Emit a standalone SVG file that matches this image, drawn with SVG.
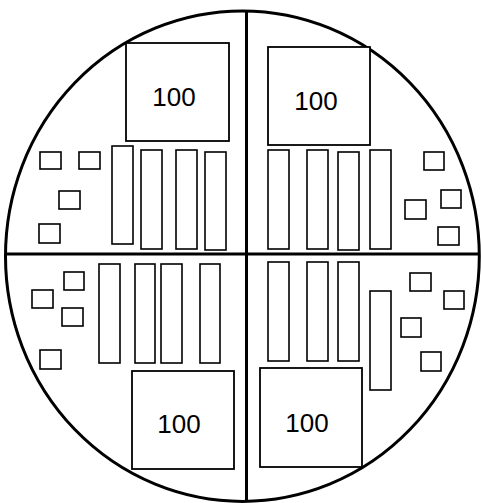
<svg xmlns="http://www.w3.org/2000/svg" width="481" height="503" viewBox="0 0 481 503">
<style>
.b{fill:#fff;stroke:#000;stroke-width:1.8}
.s{fill:#fff;stroke:#000;stroke-width:1.6}
.t{font-family:"Liberation Sans","Open Sans",sans-serif;font-size:26px;fill:#000;text-anchor:middle}
.o{fill:none;stroke:#000;stroke-width:3}
</style>
<rect width="481" height="503" fill="#fff"/>
<ellipse id="outline" class="o" cx="242.4" cy="256.2" rx="236.9" ry="245.2"/>
<g id="connectors">
<line class="o" x1="246.5" y1="11" x2="246.5" y2="501.5"/>
<line class="o" x1="5.5" y1="254" x2="479.3" y2="254"/>
</g>
<g id="q1">
<g id="big1"><rect class="b" x="126" y="43" width="103" height="98"/><text class="t" x="174" y="106">100</text></g>
<rect class="s" x="40" y="152" width="21" height="17"/>
<rect class="s" x="79" y="152" width="21" height="17"/>
<rect class="s" x="59" y="191" width="21" height="18"/>
<rect class="s" x="39" y="224" width="21" height="19"/>
<rect class="s" x="112" y="146" width="21" height="98"/>
<rect class="s" x="141" y="150" width="21" height="99"/>
<rect class="s" x="176" y="150" width="21" height="99"/>
<rect class="s" x="205" y="152" width="21" height="98"/>
</g>
<g id="q2">
<g id="big2"><rect class="b" x="268" y="47" width="102" height="98"/><text class="t" x="316" y="110">100</text></g>
<rect class="s" x="268" y="150" width="21" height="99"/>
<rect class="s" x="307" y="150" width="21" height="99"/>
<rect class="s" x="338" y="152" width="21" height="98"/>
<rect class="s" x="370" y="150" width="21" height="99"/>
<rect class="s" x="424" y="152" width="20" height="18"/>
<rect class="s" x="441" y="190" width="20" height="18"/>
<rect class="s" x="405" y="200" width="21" height="19"/>
<rect class="s" x="438" y="227" width="21" height="18"/>
</g>
<g id="q3">
<g id="big3"><rect class="b" x="132" y="371" width="102" height="98"/><text class="t" x="179" y="433">100</text></g>
<rect class="s" x="64" y="272" width="20" height="18"/>
<rect class="s" x="32" y="290" width="21" height="18"/>
<rect class="s" x="62" y="308" width="21" height="18"/>
<rect class="s" x="40" y="350" width="21" height="19"/>
<rect class="s" x="99" y="264" width="21" height="99"/>
<rect class="s" x="135" y="264" width="20" height="99"/>
<rect class="s" x="161" y="264" width="21" height="99"/>
<rect class="s" x="200" y="264" width="20" height="99"/>
</g>
<g id="q4">
<g id="big4"><rect class="b" x="260" y="368" width="102" height="99"/><text class="t" x="307" y="432">100</text></g>
<rect class="s" x="268" y="262" width="21" height="99"/>
<rect class="s" x="307" y="262" width="21" height="99"/>
<rect class="s" x="338" y="262" width="21" height="99"/>
<rect class="s" x="370" y="291" width="21" height="99"/>
<rect class="s" x="410" y="273" width="21" height="18"/>
<rect class="s" x="444" y="291" width="20" height="18"/>
<rect class="s" x="401" y="318" width="20" height="19"/>
<rect class="s" x="421" y="352" width="20" height="19"/>
</g>
</svg>
